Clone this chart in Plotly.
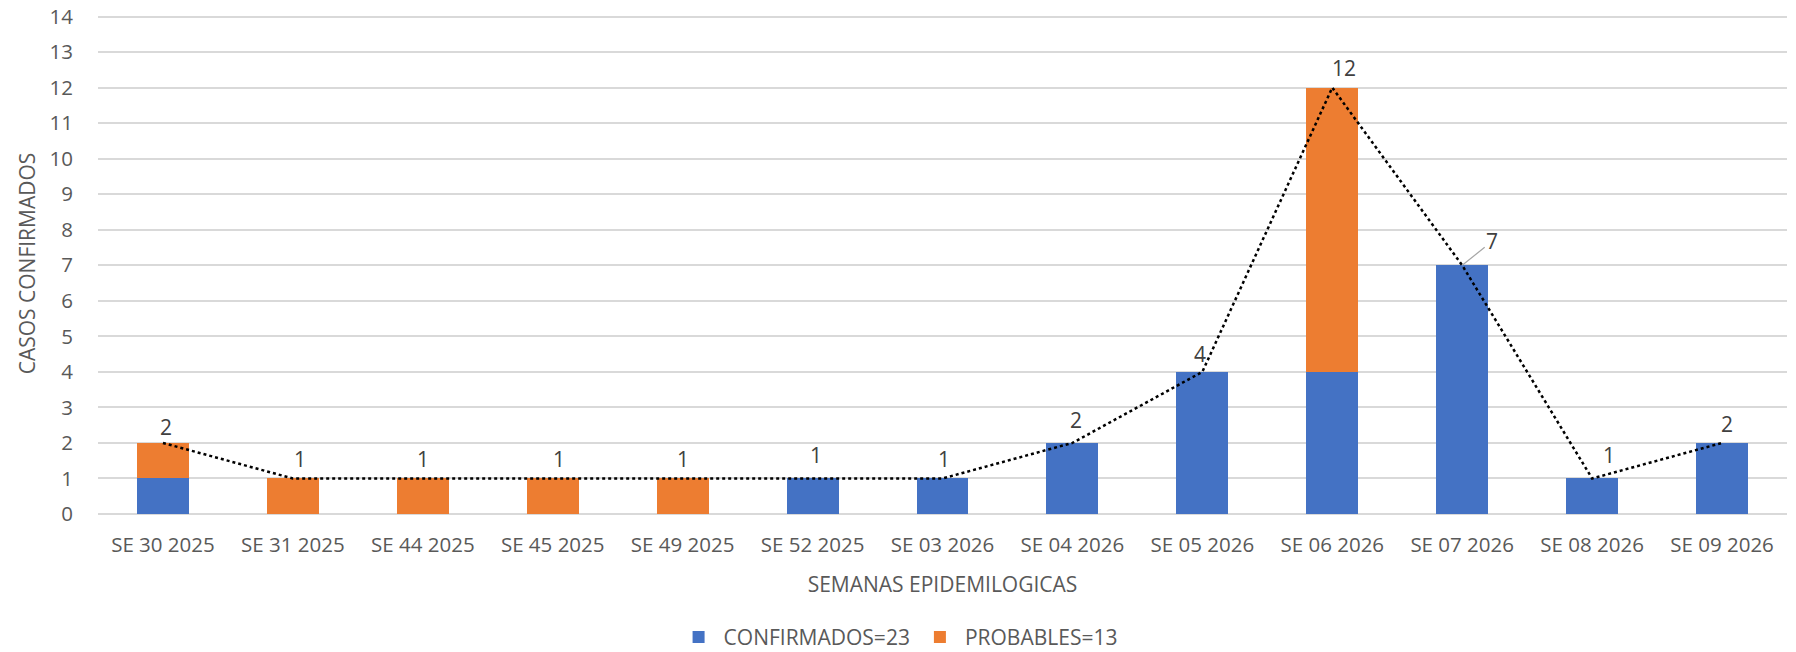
import plotly.graph_objects as go

categories = ["SE 30 2025", "SE 31 2025", "SE 44 2025", "SE 45 2025", "SE 49 2025",
              "SE 52 2025", "SE 03 2026", "SE 04 2026", "SE 05 2026", "SE 06 2026",
              "SE 07 2026", "SE 08 2026", "SE 09 2026"]
confirmados = [1, 0, 0, 0, 0, 1, 1, 2, 4, 4, 7, 1, 2]
probables = [1, 1, 1, 1, 1, 0, 0, 0, 0, 8, 0, 0, 0]
totales = [c + p for c, p in zip(confirmados, probables)]
y_ticks = list(range(0, 15))

# label placement tweaks (pixels), style only
label_xshift = [3, 7, 0, 6, 0, 3, 1, 4, -2, 12, 0, 17, 5]
label_yshift = [16, 19, 19, 19, 19, 23, 19, 23, 18, 20, 0, 23, 19]

FONT = "Open Sans"
GRAY = "#595959"

fig = go.Figure()
fig.add_trace(go.Bar(x=categories, y=confirmados, name="CONFIRMADOS=" + str(sum(confirmados)),
                     marker=dict(color="#4472C4", line=dict(width=0))))
fig.add_trace(go.Bar(x=categories, y=probables, name="PROBABLES=" + str(sum(probables)),
                     marker=dict(color="#ED7D31", line=dict(width=0))))
fig.add_trace(go.Scatter(x=categories, y=totales, mode="lines", showlegend=False,
                         line=dict(color="black", width=2.5, dash="dot"), hoverinfo="skip"))

annotations = []
for i, (cat, t) in enumerate(zip(categories, totales)):
    if i == 10:
        annotations.append(dict(x=cat, y=t, text=str(t), showarrow=True, arrowhead=0,
                                arrowwidth=1.2, arrowcolor="#A6A6A6", ax=30, ay=-24,
                                font=dict(family=FONT, size=21, color="#404040")))
    else:
        annotations.append(dict(x=cat, y=t, text=str(t), showarrow=False,
                                xshift=label_xshift[i], yshift=label_yshift[i], yanchor="middle",
                                font=dict(family=FONT, size=21, color="#404040")))

fig.update_layout(
    width=1796, height=652,
    barmode="stack", bargap=0.6,
    plot_bgcolor="white", paper_bgcolor="white",
    margin=dict(l=98, r=9, t=13, b=138, autoexpand=False),
    font=dict(family=FONT, size=20, color=GRAY),
    annotations=annotations,
    legend=dict(orientation="h", xref="paper", yref="paper", x=0.4737, xanchor="center",
                y=-0.246, yanchor="middle", font=dict(family=FONT, size=21, color=GRAY),
                itemwidth=40, traceorder="normal"),
    xaxis=dict(type="category", showgrid=False, ticks="outside", ticklen=12,
               tickcolor="rgba(0,0,0,0)", tickfont=dict(family=FONT, size=20.5, color=GRAY),
               title=dict(text="SEMANAS EPIDEMILOGICAS", standoff=20,
                          font=dict(family=FONT, size=21, color=GRAY)),
               showline=False, zeroline=False),
    yaxis=dict(range=[0, 14.1], tickvals=y_ticks, showgrid=True, gridcolor="#D9D9D9", gridwidth=1.5,
               zeroline=True, zerolinecolor="#D9D9D9", zerolinewidth=1.5,
               ticks="outside", ticklen=20, tickcolor="rgba(0,0,0,0)",
               tickfont=dict(family=FONT, size=20.5, color=GRAY),
               title=dict(text="CASOS CONFIRMADOS", standoff=8,
                          font=dict(family=FONT, size=21, color=GRAY))),
)

fig.write_html("out.html", config={"displayModeBar": False},
               post_script="document.body.style.margin='0px';")
